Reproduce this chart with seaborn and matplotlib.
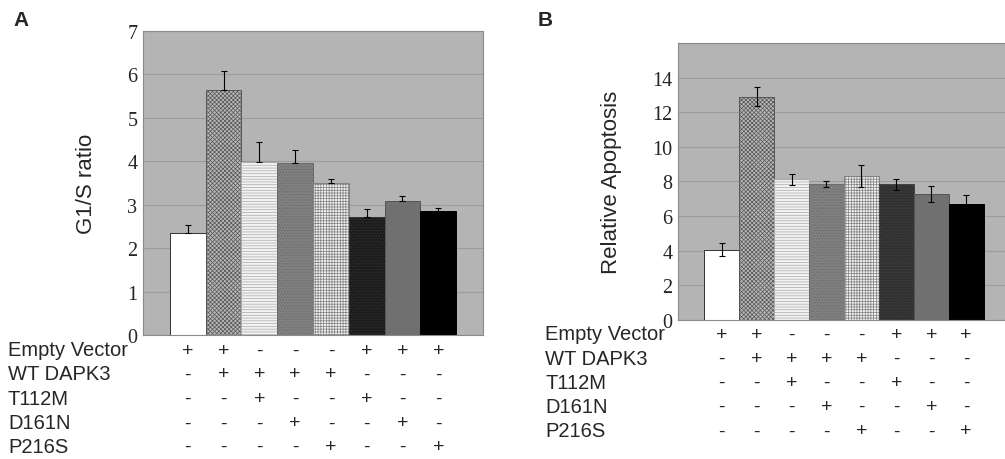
import numpy as np
import pandas as pd
import matplotlib
matplotlib.use("Agg")
import matplotlib.pyplot as plt
import matplotlib.transforms as mtransforms
import seaborn as sns

# data
conditions = ["c1", "c2", "c3", "c4", "c5", "c6", "c7", "c8"]
g1s_ratio = [2.35, 5.64, 3.99, 3.95, 3.50, 2.71, 3.09, 2.86]
g1s_err = [0.17, 0.43, 0.45, 0.30, 0.08, 0.18, 0.10, 0.07]
apoptosis = [4.04, 12.89, 8.12, 7.85, 8.33, 7.83, 7.27, 6.72]
apoptosis_err = [0.37, 0.56, 0.33, 0.20, 0.64, 0.31, 0.46, 0.49]

row_labels = ["Empty Vector", "WT DAPK3", "T112M", "D161N", "P216S"]
signs_a = [
    ["+", "+", "-", "-", "-", "+", "+", "+"],
    ["-", "+", "+", "+", "+", "-", "-", "-"],
    ["-", "-", "+", "-", "-", "+", "-", "-"],
    ["-", "-", "-", "+", "-", "-", "+", "-"],
    ["-", "-", "-", "-", "+", "-", "-", "+"],
]
signs_b = signs_a

# bar styles (face, hatch, hatch/edge colour)
styles_a = [
    ("#ffffff", "", "#333333"),
    ("#b8b8b8", "xxxxxxxx", "#555555"),
    ("#f2f2f2", "------", "#aaaaaa"),
    ("#808080", "......", "#6a6a6a"),
    ("#f0f0f0", "++++++", "#808080"),
    ("#1c1c1c", "......", "#333333"),
    ("#707070", "", "#555555"),
    ("#000000", "", "#000000"),
]
styles_b = list(styles_a)
styles_b[5] = ("#303030", "......", "#444444")

BG = "#b4b4b4"
GRID = "#9c9c9c"
SANS = ["Liberation Sans", "DejaVu Sans"]
SERIF = ["Liberation Serif", "DejaVu Serif"]

sns.set_style("white")
plt.rcParams["hatch.linewidth"] = 0.5

fig = plt.figure(figsize=(10.05, 4.6), dpi=100)
ax_a = fig.add_axes([0.1423, 0.2696, 0.3383, 0.6615])
ax_b = fig.add_axes([0.6746, 0.3028, 0.3303, 0.6015])


def draw_panel(ax, values, errs, styles, ymax, yticks, ylabel, two_sided):
    df = pd.DataFrame({"cond": conditions, "val": values})
    sns.barplot(data=df, x="cond", y="val", ax=ax, width=1.0, color="white",
                errorbar=None, saturation=1)
    for patch, (face, hatch, hc) in zip(ax.patches, styles):
        patch.set_facecolor(face)
        patch.set_hatch(hatch)
        patch.set_edgecolor(hc)
        patch.set_linewidth(0.7)
        patch.set_zorder(2)
    x = np.arange(len(values))
    lower = errs if two_sided else np.zeros(len(errs))
    ax.errorbar(x, values, yerr=[lower, errs], fmt="none", ecolor="black",
                elinewidth=0.8, capsize=2.5, capthick=0.8, zorder=3)
    ax.set_facecolor(BG)
    ax.set_xlim(-1.25, 8.25)
    ax.set_ylim(0, ymax)
    ax.set_yticks(yticks)
    ax.set_yticklabels([str(t) for t in yticks], family=SERIF, fontsize=14.5)
    ax.yaxis.grid(True, color=GRID, linewidth=0.8, zorder=0)
    ax.set_axisbelow(True)
    ax.set_xticks([])
    ax.set_xlabel("")
    ax.set_ylabel(ylabel, family=SANS, fontsize=16)
    ax.tick_params(axis="y", length=0, pad=4)
    for sp in ax.spines.values():
        sp.set_visible(True)
        sp.set_color("#8a8a8a")
        sp.set_linewidth(0.8)


draw_panel(ax_a, g1s_ratio, g1s_err, styles_a, 7, list(range(0, 8)),
           "G1/S ratio", False)
draw_panel(ax_b, apoptosis, apoptosis_err, styles_b, 16, list(range(0, 16, 2)),
           "Relative Apoptosis", True)
ax_b.spines["right"].set_visible(False)
ax_a.yaxis.set_label_coords(-0.135, 0.5)
ax_b.yaxis.set_label_coords(-0.17, 0.5)


def draw_table(ax, signs, label_x, row_ys):
    trans = mtransforms.blended_transform_factory(ax.transData, fig.transFigure)
    for label, row, y in zip(row_labels, signs, row_ys):
        fig.text(label_x, y, label, family=SANS, fontsize=14.5,
                 ha="left", va="center")
        for i, s in enumerate(row):
            fig.text(i, y, s, transform=trans, family=SANS, fontsize=14,
                     ha="center", va="center")


draw_table(ax_a, signs_a, 8 / 1005,
           [1 - y / 460 for y in [351, 375, 399.5, 424, 447.5]])
draw_table(ax_b, signs_b, 545 / 1005,
           [1 - y / 460 for y in [335, 359.5, 383.5, 407.5, 432]])

fig.text(13 / 1005, 1 - 21 / 460, "A", family=SANS, fontsize=15,
         fontweight="bold", ha="left", va="center")
fig.text(538 / 1005, 1 - 21 / 460, "B", family=SANS, fontsize=15,
         fontweight="bold", ha="left", va="center")

fig.savefig("out.png", dpi=100)
